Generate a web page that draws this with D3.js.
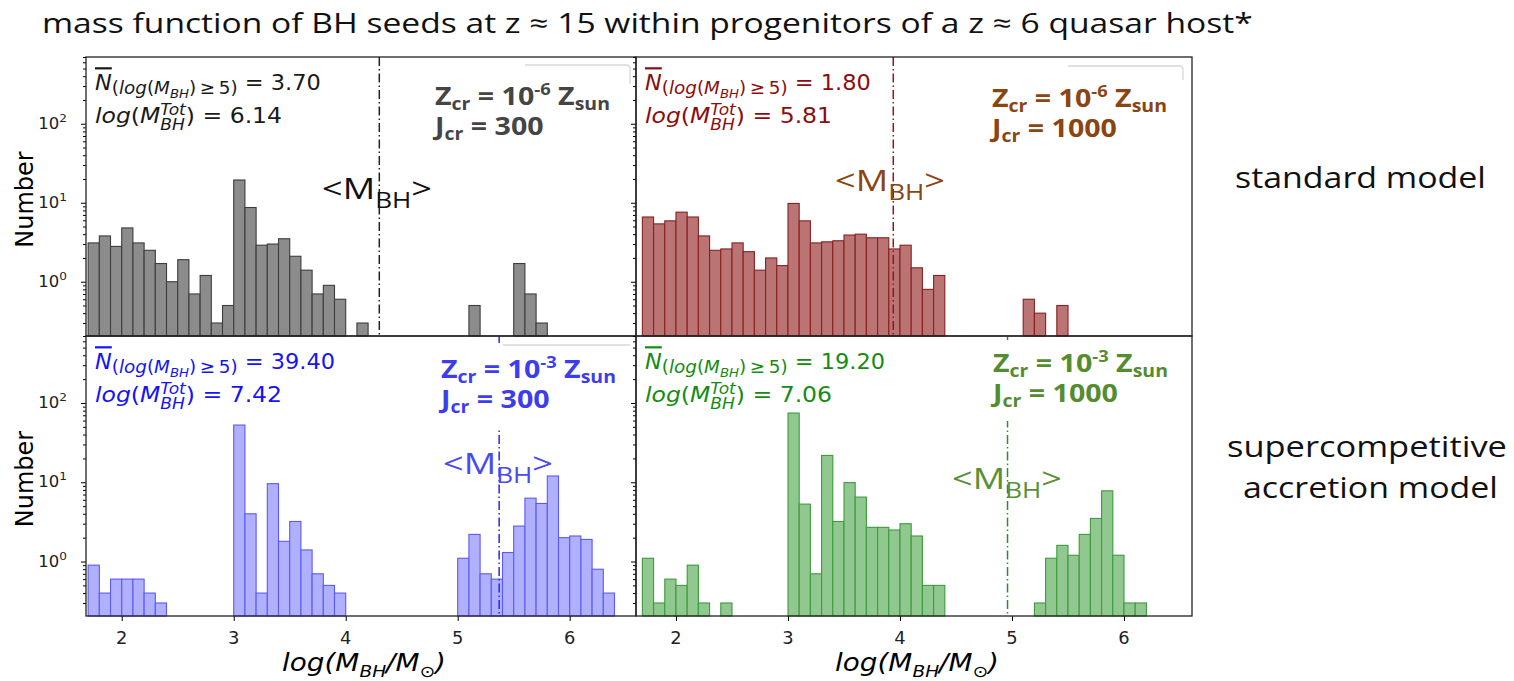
<!DOCTYPE html>
<html>
<head>
<meta charset="utf-8">
<title>BH seed mass function</title>
<script src="https://cdn.jsdelivr.net/npm/d3@7"></script>
<style>
    body { margin: 0; background: #fff; }
    svg { display: block; }
</style>
</head>
<body>
<svg id="chart" width="1514" height="681"></svg>
<script>
    // histogram bins: left edges start at log M = 1.7, width 0.1
    const binStart = 1.7, binWidth = 0.1;

    // standard model, Zcr = 1e-6 Zsun, Jcr = 300
    const countsStdJ300 = [3.1, 3.8, 2.8, 4.8, 3.1, 2.5, 1.7, 1.0, 1.9, 0.7,
        1.2, 0.3, 0.5, 19.4, 8.7, 2.9, 3.0, 3.5, 2.1, 1.4,
        0.7, 0.9, 0.6, 0, 0.3, 0, 0, 0, 0, 0,
        0, 0, 0, 0, 0.5, 0, 0, 0, 1.7, 0.7,
        0.3];
    // standard model, Zcr = 1e-6 Zsun, Jcr = 1000
    const countsStdJ1000 = [6.6, 5.4, 5.9, 7.6, 6.6, 3.8, 2.5, 2.6, 3.1, 2.4,
        1.4, 2.0, 1.6, 9.8, 5.9, 3.1, 3.2, 3.3, 3.9, 4.0,
        3.6, 3.6, 2.6, 2.9, 1.5, 0.8, 1.2, 0, 0, 0,
        0, 0, 0, 0, 0.6, 0.4, 0, 0.5];
    // supercompetitive accretion, Zcr = 1e-3 Zsun, Jcr = 300
    const countsSupJ300 = [0.9, 0.4, 0.6, 0.6, 0.6, 0.4, 0.3, 0, 0, 0,
        0, 0, 0, 52.7, 4.0, 0.4, 9.6, 1.8, 3.2, 1.4,
        0.7, 0.5, 0.4, 0, 0, 0, 0, 0, 0, 0,
        0, 0, 0, 1.1, 2.2, 0.7, 0.6, 1.3, 2.8, 6.3,
        5.4, 12.0, 2.0, 2.1, 1.9, 0.8, 0.4];
    // supercompetitive accretion, Zcr = 1e-3 Zsun, Jcr = 1000
    const countsSupJ1000 = [1.1, 0.3, 0.6, 0.5, 0.9, 0.3, 0, 0.3, 0, 0,
        0, 0, 0, 74.7, 5.3, 0.7, 21.8, 3.2, 9.9, 6.5,
        2.7, 2.7, 2.5, 3.0, 2.1, 0.5, 0.5, 0, 0, 0,
        0, 0, 0, 0, 0, 0.3, 1.1, 1.6, 1.2, 2.2,
        3.5, 7.8, 1.2, 0.3, 0.3];

    const meanLogM = [4.30, 3.94, 5.37, 4.96];
    const nAbove5 = ["3.70", "1.80", "39.40", "19.20"];
    const logMTot = ["6.14", "5.81", "7.42", "7.06"];
    const zcrExp = ["-6", "-6", "-3", "-3"];
    const jcrVal = ["300", "1000", "300", "1000"];
    const xTicks = [2, 3, 4, 5, 6];
    const yMajor = [1, 10, 100];
    const rowLabels = ["standard model", "supercompetitive", "accretion model"];
    const titleText = "mass function of BH seeds at z \u2248 15 within progenitors of a z \u2248 6 quasar host*";

    const MPL = "'DejaVu Sans', sans-serif";
    const SLIDE = "'Open Sans', 'Noto Sans', sans-serif";

    const svg = d3.select("#chart");

    // text made of tspans, shifted up/down, then squeezed/stretched horizontally
    function rich(parent, x, y, parts, o) {
        const g = parent.append("g");
        const t = g.append("text")
            .attr("font-family", o.family)
            .attr("font-size", o.size)
            .attr("font-weight", o.weight || 400)
            .attr("fill", o.color || "#000");
        let shift = 0;
        parts.forEach(p => {
            const s = p.shift || 0;
            const ts = t.append("tspan").text(p.t).attr("dy", s - shift);
            shift = s;
            if (p.size) ts.attr("font-size", p.size);
            if (p.italic) ts.attr("font-style", "italic");
            if (p.over) ts.style("text-decoration", "overline");
            if (p.back) {
                const prev = ts.node().previousSibling;
                ts.attr("dx", -prev.getComputedTextLength());
            }
        });
        const w = t.node().getBBox().width;
        const sx = o.width ? o.width / w : (o.sx || 1);
        let x0 = x;
        if (o.anchor === "middle") x0 = x - w * sx / 2;
        if (o.anchor === "end") x0 = x - w * sx;
        g.attr("transform", "translate(" + x0 + "," + y + ") scale(" + sx + ",1)");
        return sx;
    }

    const panels = [
        {counts: countsStdJ300, x0: 86, x1: 636, y0: 57, y1: 336, xdom: [1.681, 6.592],
            fill: "#8c8c8c", edge: "#3d3d3d", stat: "#1a1a1a", note: "#454545", line: "#222", ml: "#111",
            noteX: 435, noteY: 105, mlX: 322, mlY: 199, box: null,
            frame: "M525,65H626Q630,65 630,69V84"},
        {counts: countsStdJ1000, x0: 636, x1: 1192, y0: 57, y1: 336, xdom: [1.643, 6.607],
            fill: "#ba7474", edge: "#8b1f1f", stat: "#8b0d0d", note: "#8b4513", line: "#8b1a1a", ml: "#8b4513",
            noteX: 992, noteY: 107, mlX: 835, mlY: 191, box: null,
            frame: "M1068,66H1179Q1183,66 1183,70V80"},
        {counts: countsSupJ300, x0: 86, x1: 636, y0: 336, y1: 616, xdom: [1.681, 6.592],
            fill: "#b0b0ff", edge: "#5a5af5", stat: "#1414f5", note: "#3d3df0", line: "#2b2bd9", ml: "#4a4af5",
            noteX: 441, noteY: 378, mlX: 443, mlY: 474, box: [438, 343, 195, 85],
            frame: "M503,345H630"},
        {counts: countsSupJ1000, x0: 636, x1: 1192, y0: 336, y1: 616, xdom: [1.643, 6.607],
            fill: "#90c890", edge: "#3e9a3e", stat: "#148c14", note: "#548c30", line: "#2e8b2e", ml: "#5a8f35",
            noteX: 993, noteY: 372, mlX: 952, mlY: 489, box: [985, 340, 204, 81],
            frame: null}
    ];

    panels.forEach((p, k) => {
        const x = d3.scaleLinear().domain(p.xdom).range([p.x0, p.x1]);
        const y = d3.scaleLog().domain([0.2055, 700]).range([p.y1, p.y0]);
        const g = svg.append("g");

        const bins = p.counts.map((c, i) => ({lo: binStart + i * binWidth, c: c})).filter(d => d.c > 0);

        g.selectAll("rect.bar")
            .data(bins)
            .enter().append("rect")
            .attr("class", "bar")
            .attr("x", d => x(d.lo))
            .attr("width", d => x(d.lo + binWidth) - x(d.lo))
            .attr("y", d => y(d.c))
            .attr("height", d => p.y1 - y(d.c))
            .attr("fill", p.fill)
            .attr("stroke", p.edge)
            .attr("stroke-width", 1.1);

        // mean BH mass
        g.append("line")
            .attr("x1", x(meanLogM[k])).attr("x2", x(meanLogM[k]))
            .attr("y1", p.y0).attr("y2", p.y1)
            .attr("stroke", p.line)
            .attr("stroke-width", 1.5)
            .attr("stroke-dasharray", "9,3,1.5,3");

        if (p.box) {
            g.append("rect")
                .attr("x", p.box[0]).attr("y", p.box[1])
                .attr("width", p.box[2]).attr("height", p.box[3])
                .attr("fill", "#fff");
        }
        if (p.frame) {
            g.append("path").attr("d", p.frame)
                .attr("fill", "none").attr("stroke", "#d8d8d8").attr("stroke-width", 1.3);
        }

        // y ticks (major + log minor), pointing left
        const yMinor = y.ticks().filter(v => !yMajor.some(m => Math.abs(m - v) < 1e-9));
        g.append("g").attr("transform", "translate(" + p.x0 + ",0)")
            .call(d3.axisLeft(y).tickValues(yMajor).tickSize(5).tickFormat(""))
            .call(a => a.select(".domain").remove());
        g.append("g").attr("transform", "translate(" + p.x0 + ",0)")
            .call(d3.axisLeft(y).tickValues(yMinor).tickSize(3).tickFormat(""))
            .call(a => a.select(".domain").remove());

        if (p.x0 < 100) {
            yMajor.forEach(v => {
                rich(svg, 67, y(v) + 5, [{t: "10"}, {t: String(Math.round(Math.log10(v))), size: 11, shift: -7}],
                    {family: MPL, size: 15, sx: 1.1, anchor: "end", color: "#222"});
            });
            svg.append("text")
                .attr("transform", "translate(33," + ((p.y0 + p.y1) / 2 + 3) + ") rotate(-90)")
                .attr("text-anchor", "middle")
                .attr("font-family", MPL)
                .attr("font-size", 24)
                .text("Number");
        }

        if (p.y1 > 600) {
            g.append("g").attr("transform", "translate(0," + p.y1 + ")")
                .call(d3.axisBottom(x).tickValues(xTicks).tickSize(5).tickFormat(""))
                .call(a => a.select(".domain").remove());
            xTicks.forEach(v => {
                rich(svg, x(v), 644, [{t: String(v)}], {family: MPL, size: 17, sx: 1.05, anchor: "middle", color: "#222"});
            });
            rich(svg, (p.x0 + p.x1) / 2 + 3, 671, [
                {t: "log", italic: true}, {t: "(", italic: true}, {t: "M", italic: true},
                {t: "BH", italic: true, size: 16, shift: 6},
                {t: "/M", italic: true, shift: 0},
                {t: "\u2299", size: 16, shift: 6},
                {t: ")", italic: true, shift: 0}
            ], {family: MPL, size: 24, width: 164, anchor: "middle"});
        }

        // panel frame
        g.append("rect")
            .attr("x", p.x0).attr("y", p.y0)
            .attr("width", p.x1 - p.x0).attr("height", p.y1 - p.y0)
            .attr("fill", "none").attr("stroke", "#222").attr("stroke-width", 1.3);

        // statistics (matplotlib mathtext)
        rich(svg, p.x0 + 9, p.y0 + 33, [
            {t: "N", italic: true, over: true},
            {t: "(", size: 18, shift: 4},
            {t: "log", size: 18, shift: 4, italic: true},
            {t: "(", size: 18, shift: 4},
            {t: "M", size: 18, shift: 4, italic: true},
            {t: "BH", size: 13, shift: 8, italic: true},
            {t: ")\u2009\u2265\u20095)", size: 18, shift: 4},
            {t: " = " + nAbove5[k], shift: 0}
        ], {family: MPL, size: 22, sx: 1.02, color: p.stat});
        rich(svg, p.x0 + 9, p.y0 + 66, [
            {t: "log", italic: true}, {t: "("}, {t: "M", italic: true},
            {t: "BH", italic: true, size: 16, shift: 7},
            {t: "Tot", italic: true, size: 16, shift: -8, back: true},
            {t: ") = " + logMTot[k], shift: 0}
        ], {family: MPL, size: 22, sx: 1.07, color: p.stat});

        // model parameters
        const sx = rich(svg, p.noteX, p.noteY, [
            {t: "Z"}, {t: "cr", size: 17, shift: 5}, {t: " = 10", shift: 0},
            {t: zcrExp[k], size: 16, shift: -10}, {t: " Z", shift: 0}, {t: "sun", size: 17, shift: 5}
        ], {family: SLIDE, size: 25, weight: 700, width: 175, color: p.note});
        rich(svg, p.noteX, p.noteY + 30, [
            {t: "J"}, {t: "cr", size: 17, shift: 5}, {t: " = " + jcrVal[k], shift: 0}
        ], {family: SLIDE, size: 25, weight: 700, sx: sx, color: p.note});

        // <M_BH> label
        rich(svg, p.mlX, p.mlY, [
            {t: "<M"}, {t: "BH", size: 21, shift: 9}, {t: ">", shift: 0}
        ], {family: SLIDE, size: 29, width: 110, color: p.ml});
    });

    // slide title and row labels
    rich(svg, 42, 33, [{t: titleText}], {family: SLIDE, size: 27, width: 1211, color: "#111"});
    rich(svg, 1235, 188, [{t: rowLabels[0]}], {family: SLIDE, size: 29, width: 251, color: "#111"});
    rich(svg, 1227, 457, [{t: rowLabels[1]}], {family: SLIDE, size: 29, width: 280, color: "#111"});
    rich(svg, 1243, 498, [{t: rowLabels[2]}], {family: SLIDE, size: 29, width: 255, color: "#111"});
</script>
</body>
</html>
